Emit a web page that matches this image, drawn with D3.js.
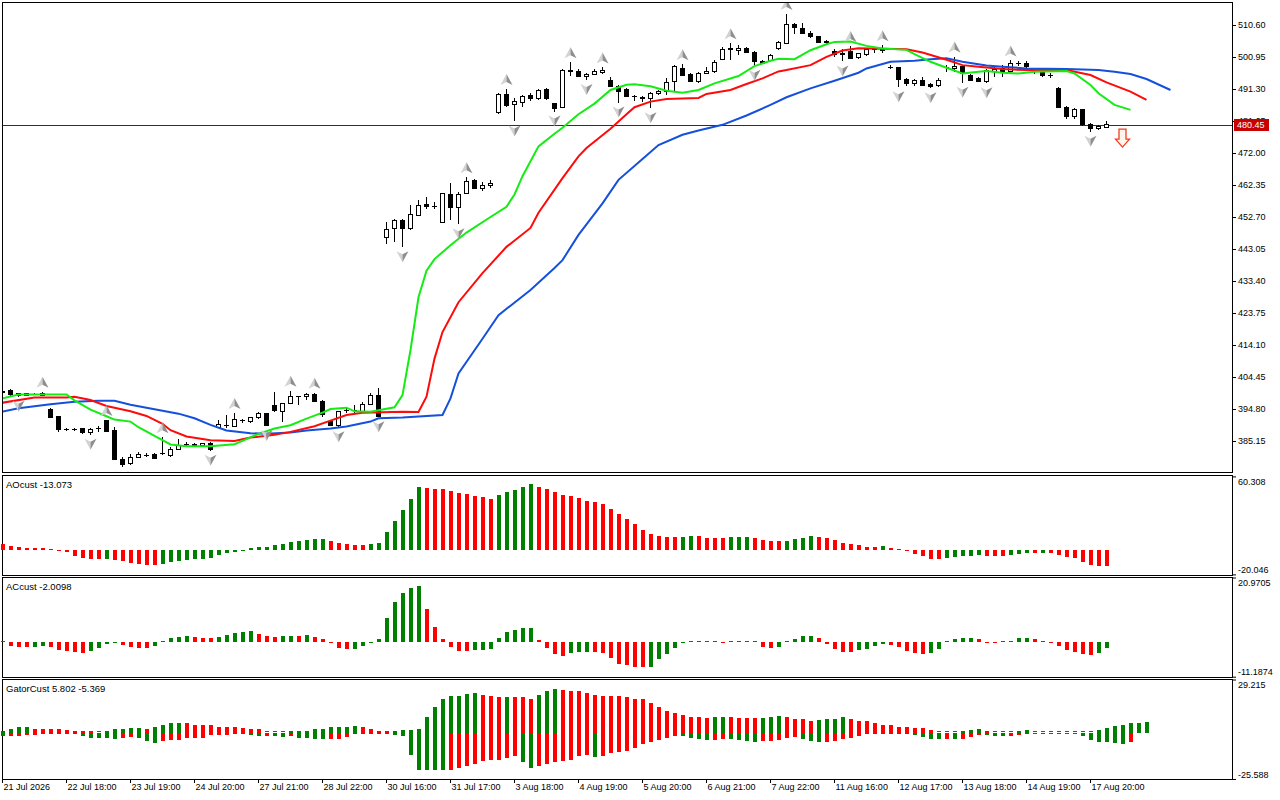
<!DOCTYPE html>
<html>
<head>
<meta charset="utf-8">
<script src="https://cdn.jsdelivr.net/npm/d3@7"></script>
<style>
body { margin: 0; background: #fff; }
svg text { font-family: "Liberation Sans", Arial, sans-serif; }
</style>
</head>
<body>
<div id="chart"></div>
<script>
// ---- data ----
var opens = [400.2,400.5,399.5,398.9,399.2,399.4,394.5,392.5,388.5,388.6,
389.0,387.7,388.8,391.2,388.2,379.7,378.4,380.2,380.9,381.2,
381.3,380.7,382.6,384.1,384.2,383.8,384.3,389.3,389.7,389.5,
391.3,391.0,392.2,393.5,396.0,394.0,396.5,398.7,398.5,399.2,
397.0,391.0,389.7,394.3,394.3,394.0,396.2,399.0,446.6,449.3,
451.5,449.1,453.2,456.6,455.8,451.1,459.6,455.6,459.8,463.6,
461.4,462.1,484.2,489.7,486.5,487.2,489.2,488.5,491.3,486.8,
485.8,497.0,496.7,495.0,495.8,496.2,493.8,492.2,491.0,489.1,
488.8,488.5,489.8,490.5,493.5,497.5,495.8,493.5,496.0,496.5,
500.1,503.6,502.9,503.6,502.3,499.6,500.0,503.4,505.1,510.9,
509.6,508.1,507.1,505.6,502.6,501.6,502.6,500.9,501.6,503.1,
503.1,497.8,497.8,494.2,493.0,494.0,492.7,492.3,497.8,497.6,
498.1,495.5,494.5,493.5,496.7,497.6,496.5,499.1,498.9,496.7,
496.2,495.5,491.5,485.8,483.0,485.0,480.5,479.4,479.8];

var highs = [400.5,400.9,399.7,399.7,399.5,400.0,395.0,392.7,389.0,389.0,
389.2,389.0,389.7,391.5,389.5,380.2,381.2,381.9,381.4,381.4,
386.3,383.2,385.8,384.9,384.4,384.6,384.9,391.5,393.0,393.6,
391.8,392.5,394.0,393.7,399.8,396.7,400.3,398.8,399.5,399.7,
397.5,391.2,394.3,395.0,396.0,397.0,399.5,401.0,451.3,452.1,
452.1,456.3,457.8,458.6,457.3,460.0,462.9,460.3,464.7,464.1,
463.4,463.9,490.0,491.3,488.5,489.5,490.0,491.2,491.5,487.2,
497.2,499.4,497.2,496.2,497.2,497.8,494.8,492.5,491.5,489.5,
489.2,490.5,491.0,494.5,498.5,498.8,496.2,496.5,498.0,499.9,
503.9,505.1,504.6,503.9,502.9,500.1,501.9,505.8,513.9,511.1,
511.1,508.9,507.3,506.1,503.3,503.3,504.3,502.3,503.6,504.0,
504.5,498.6,498.0,494.5,494.3,494.8,493.0,494.5,498.6,501.1,
498.3,495.8,494.8,497.2,498.3,498.6,499.9,499.6,499.6,497.2,
496.5,496.0,491.8,486.2,485.5,485.2,481.0,480.5,481.8];

var lows = [399.7,398.8,398.5,398.7,398.9,398.6,392.0,388.0,388.1,388.2,
387.3,387.0,388.0,387.8,379.4,377.2,377.9,379.9,380.4,379.7,
381.0,380.4,382.4,383.6,383.4,383.6,382.2,389.0,389.0,389.3,
390.5,390.7,391.7,389.7,394.0,391.0,396.2,396.0,397.5,396.8,
392.5,389.8,389.3,393.7,393.5,393.7,396.0,392.3,444.5,445.3,
443.6,448.8,453.0,455.2,455.0,451.0,451.8,450.5,459.5,461.0,
460.6,461.3,483.8,486.0,481.5,485.8,487.8,488.0,488.0,484.5,
485.5,495.2,494.8,494.0,495.5,495.7,491.8,487.2,488.8,487.8,
487.5,485.5,489.5,489.5,490.5,495.2,493.3,493.2,495.7,496.2,
499.9,499.9,501.6,502.1,498.3,498.8,499.8,503.0,504.9,507.9,
507.8,506.6,505.1,504.6,501.1,499.6,500.3,500.3,501.3,502.1,
502.3,497.2,491.8,492.2,492.2,492.2,491.5,492.0,496.5,496.5,
493.2,493.7,493.5,493.0,495.0,495.0,496.2,498.1,497.6,495.8,
495.0,494.5,485.5,482.2,482.2,480.2,478.4,479.0,479.8];

var closes = [399.9,399.2,398.9,399.5,399.2,398.9,392.2,388.5,388.6,388.5,
387.7,388.7,388.8,388.0,379.6,378.2,380.2,381.1,380.9,379.9,
381.4,382.7,383.9,384.0,383.6,384.4,382.6,390.0,389.8,391.5,
391.3,392.3,393.3,389.8,394.3,396.5,398.7,398.7,399.2,397.0,
393.0,389.9,394.0,394.3,394.4,396.2,399.0,392.5,449.0,451.5,
449.2,453.5,456.2,455.8,455.9,459.8,455.6,459.5,463.4,461.4,
462.1,462.7,489.7,486.2,487.5,489.0,488.3,490.8,488.5,485.5,
496.8,496.6,495.0,495.8,496.5,497.0,492.2,490.5,489.0,489.0,
488.5,489.8,490.5,493.3,498.0,495.5,493.5,496.0,496.7,499.4,
503.3,503.1,503.6,502.3,499.6,498.9,501.5,505.2,510.9,509.9,
508.1,507.1,505.3,505.4,501.6,502.1,500.6,501.9,503.3,503.1,
503.0,497.7,494.2,493.0,494.0,492.5,492.2,493.8,497.7,498.1,
496.0,494.0,493.6,496.8,497.3,496.2,499.0,498.9,498.1,496.5,
495.3,495.3,485.8,483.0,485.2,480.5,479.5,480.0,480.45];

// alligator lines, [bar, price]
var jaw = [[0,394.0],[2,395.0],[6,396.2],[9,397.0],[12,397.3],[14,397.3],[16,396.1],[19,394.7],[22,393.4],[24,392.0],
[26,390.0],[28,388.3],[31,387.5],[33,387.3],[36,387.7],[38,388.3],[41,388.9],[43,389.5],[46,391.0],[47,392.0],
[50,392.2],[55,393.0],[56,398.0],[57,405.5],[60,416.0],[62,423.1],[66,430.7],[69,437.3],[70,439.7],[72,447.3],
[75,456.8],[77,463.9],[80,470.2],[82,474.4],[85,477.5],[87,478.8],[90,480.5],[93,483.3],[96,486.5],[98,488.8],
[101,491.5],[104,493.8],[107,496.2],[108,497.5],[111,499.5],[114,499.8],[116,500.3],[118,500.6],[120,499.5],[123,498.4],
[125,498.0],[128,497.5],[133,497.3],[137,497.0],[139,496.5],[141,495.8],[143,494.3],[146,491.0]];

var teeth = [[0,396.7],[4,398.3],[8,398.3],[9,398.5],[11,397.5],[13,395.7],[16,394.1],[18,392.7],[20,390.3],[21,388.4],
[23,386.5],[26,385.4],[29,385.15],[31,386.2],[34,387.0],[36,387.9],[39,389.6],[41,391.3],[43,393.0],[45,393.7],
[50,394.0],[52,393.9],[53,398.5],[54,410.0],[55,418.0],[57,427.0],[60,435.8],[63,443.7],[66,449.4],[67,454.0],
[70,464.4],[72,471.0],[73,473.5],[76,479.3],[78,483.7],[79,485.8],[81,487.5],[83,488.3],[87,488.6],[88,489.8],
[91,491.0],[93,492.8],[95,494.5],[97,496.6],[98,497.0],[101,498.5],[103,501.0],[105,502.9],[107,503.6],[113,503.3],
[115,502.3],[118,500.1],[120,498.5],[122,498.0],[125,497.3],[128,497.0],[133,497.0],[136,495.5],[138,493.3],[141,490.5],
[143,488.0]];

var lips = [[0,398.0],[2,399.2],[8,399.2],[9,397.4],[11,394.6],[13,392.6],[14,391.6],[16,391.0],[17,389.3],[19,386.7],
[21,384.1],[23,383.6],[26,383.6],[29,384.2],[30,385.2],[32,387.3],[34,388.9],[36,389.9],[38,391.9],[40,393.7],
[41,394.8],[43,395.2],[44,394.1],[46,394.0],[49,395.3],[50,399.0],[51,412.6],[52,428.5],[53,436.5],[54,440.0],
[56,444.2],[58,448.0],[61,452.7],[63,455.8],[64,459.5],[65,465.0],[67,474.0],[69,477.8],[70,479.6],[72,483.7],
[74,486.9],[76,491.0],[78,492.6],[79,492.7],[81,492.1],[83,490.8],[85,490.2],[87,491.0],[89,493.0],[92,495.2],
[94,498.2],[96,499.8],[97,500.4],[99,500.3],[101,503.0],[103,504.8],[104,505.5],[106,505.6],[108,504.3],[110,503.5],
[113,503.1],[114,501.8],[116,499.5],[118,497.7],[120,496.0],[122,496.5],[123,496.7],[125,496.2],[127,496.0],[129,496.5],
[133,496.7],[134,496.0],[136,492.5],[137,490.0],[139,486.5],[141,485.0]];

var fractalUp = [5,13,20,29,36,39,58,63,71,75,85,91,98,106,110,119,126];
var fractalDown = [2,11,15,26,33,42,47,50,57,64,69,73,77,81,94,105,112,116,120,123,136];

var signalBar = 140, signalPrice = 479.2;
var lastPrice = 480.45;

var aoValues = [4.9,3.6,2.5,1.9,1.6,1.4,0.1,-0.5,-1.6,-4.6,
-6.6,-7.1,-7.4,-7.1,-8.2,-8.7,-10.4,-11.8,-12.3,-12.4,
-11.2,-10.1,-8.7,-7.9,-7.4,-7.1,-6.3,-4.4,-2.7,-1.6,
-0.5,1.6,2.2,2.5,4.4,5.2,6.6,7.4,7.9,8.7,
9.0,7.4,6.0,5.2,4.4,4.1,5.2,5.7,14.8,23.8,
32.8,41.8,51.9,50.8,50.0,49.7,48.4,46.7,45.6,44.5,
43.7,41.8,45.3,47.5,49.5,51.9,54.1,51.9,50.0,47.5,
45.3,44.3,42.9,40.4,39.1,38.0,33.6,29.5,25.4,21.3,
16.4,13.1,11.5,10.6,10.4,10.6,11.7,11.5,10.1,9.8,
9.7,10.3,10.7,10.8,9.5,7.9,7.4,7.3,7.6,9.0,
9.8,11.7,10.9,9.8,8.2,6.0,4.9,4.1,2.7,2.6,
3.3,1.4,0.1,-0.8,-3.6,-4.9,-7.1,-7.4,-6.3,-5.5,
-4.9,-4.6,-4.1,-4.9,-5.0,-5.1,-4.2,-3.6,-2.7,-2.9,
-2.6,-2.7,-4.1,-5.5,-6.8,-9.6,-12.3,-12.8,-13.073];

var acValues = [0.2,-1.2,-1.5,-1.6,-1.5,-1.3,-1.5,-2.6,-2.9,-3.1,
-3.5,-2.7,-1.8,-0.5,-0.4,-1.0,-1.5,-1.8,-1.9,-1.2,
0.1,1.3,1.7,1.9,1.6,1.4,1.3,1.7,2.4,2.9,
3.2,3.6,2.7,1.9,1.8,1.9,2.0,1.9,2.2,1.6,
1.0,-0.4,-2.0,-2.3,-2.2,-1.2,-0.2,0.9,7.9,13.0,
15.9,17.6,18.2,10.8,5.0,1.0,-1.5,-2.8,-2.9,-2.6,
-2.5,-2.3,1.3,3.2,3.9,4.5,4.6,0.6,-1.8,-3.9,
-4.4,-3.5,-3.2,-3.1,-3.2,-3.5,-5.1,-7.0,-7.5,-8.1,
-8.2,-8.0,-5.6,-3.7,-1.8,-0.2,0.1,0.05,0.1,0.0,
-0.1,0.0,0.1,0.2,0.1,-1.7,-1.8,-1.5,0.1,0.9,
1.9,2.0,1.4,-0.5,-2.2,-3.1,-3.2,-2.6,-2.3,-1.3,
-0.6,-0.9,-1.7,-2.8,-3.5,-3.8,-3.5,-2.3,0.2,1.0,
1.3,1.35,1.0,-0.1,-0.15,0.0,0.5,1.3,1.35,1.0,
0.1,-0.1,-1.2,-2.5,-3.1,-3.7,-4.2,-3.5,-2.0098];

var gatorUp = [1.1,2.2,2.8,2.9,2.2,2.15,2.1,1.7,1.6,1.1,
1.0,0.6,0.1,1.1,1.7,2.2,2.3,2.4,2.2,2.8,
3.9,5.0,5.1,5.0,4.4,4.3,3.9,3.3,3.2,2.8,
2.7,2.2,1.7,0.3,0.1,0.05,0.6,0.7,1.1,1.7,
1.8,2.8,2.9,3.3,3.4,2.8,1.7,1.1,1.0,1.1,
1.6,1.65,1.7,8.3,13.8,18.7,20.0,20.4,21.5,21.55,
20.9,20.4,19.8,19.85,19.8,19.7,18.7,20.9,23.1,24.2,
23.7,23.1,23.05,22.0,20.9,20.4,20.35,20.3,19.8,18.7,
18.2,16.5,13.8,12.1,11.0,9.9,8.8,8.3,8.25,8.3,
8.35,8.3,8.2,8.1,8.0,8.2,8.8,8.85,8.8,7.7,
7.2,6.6,6.65,7.2,7.7,8.3,7.7,6.6,6.1,5.0,
4.4,3.9,3.3,2.8,2.75,2.7,1.65,0.55,0.3,0.55,
1.1,1.65,1.7,1.1,0.55,0.05,0.55,1.1,1.15,0.55,
0.5,0.1,0.05,0.1,0.15,0.05,0.55,1.65,2.75,3.85,
4.4,5.0,5.5,5.802];

var gatorDown = [2.0,2.0,1.95,1.6,1.5,0.9,0.85,0.8,0.4,0.35,
2.0,3.1,3.15,3.2,3.3,3.1,2.6,3.1,4.8,5.9,
4.8,4.2,4.1,3.1,3.0,2.9,1.5,1.4,1.3,0.9,
0.8,1.5,2.0,1.9,2.0,2.6,2.0,3.1,3.2,3.3,
3.7,3.6,3.5,2.6,0.5,0.4,0.9,1.0,1.05,1.6,
1.65,12.1,20.4,20.45,20.5,20.9,20.8,19.8,18.2,17.1,
15.4,15.35,14.9,13.8,12.7,16.5,19.3,18.2,17.1,16.5,
15.4,14.9,12.7,12.1,13.2,12.7,11.0,10.5,9.9,8.3,
6.1,5.0,3.9,2.8,1.9,2.0,2.8,3.3,3.9,3.85,
3.3,3.35,3.9,4.4,5.0,4.9,4.4,3.9,2.75,2.7,
3.3,4.4,5.0,4.95,4.4,3.3,2.75,1.65,0.55,0.5,
0.45,0.4,0.5,0.55,1.1,2.2,3.3,3.35,3.3,3.4,
3.3,2.2,1.1,1.15,1.65,1.7,1.65,1.1,0.55,0.5,
0.55,0.3,0.3,0.25,0.2,2.0,3.9,5.0,5.05,5.5,
6.1,5.369];

var priceTicks = [510.60,500.95,491.30,481.65,472.00,462.35,452.70,443.05,433.40,423.75,414.10,404.45,394.80,385.15];
var aoRange = [-20.046, 60.308];
var acRange = [-11.1874, 20.9705];
var gatorRange = [-25.588, 29.215];

var timeTickBars = [0,8,16,24,32,40,48,56,64,72,80,88,96,104,112,120,128,136];
var timeLabels = ["21 Jul 2026","22 Jul 18:00","23 Jul 19:00","24 Jul 20:00","27 Jul 21:00","28 Jul 22:00",
"30 Jul 16:00","31 Jul 17:00","3 Aug 18:00","4 Aug 19:00","5 Aug 20:00","6 Aug 21:00","7 Aug 22:00",
"11 Aug 16:00","12 Aug 17:00","13 Aug 18:00","14 Aug 19:00","17 Aug 20:00"];

// ---- layout ----
var width = 1280, height = 800,
    left = 2, right = 1232;
var pMain = [2, 472], pAO = [475, 575], pAC = [577, 677], pGator = [679, 779];

var green = "#008000", red = "#ff0000";

var svg = d3.select("#chart")
  .append("svg")
    .attr("width", width)
    .attr("height", height);

var x = d3.scaleLinear().domain([0, 1]).range([2, 10]);   // 8px per bar

var yMain = d3.scaleLinear().domain([385.15, 510.60]).range([441, 25]);
var yAO = d3.scaleLinear().domain(aoRange).range([pAO[1] - 0.6, pAO[0] + 1.4]);
var yAC = d3.scaleLinear().domain(acRange).range([pAC[1] - 0.3, pAC[0] + 0.5]);
var yG = d3.scaleLinear().domain(gatorRange).range([pGator[1], pGator[0] + 0.5]);

var defs = svg.append("defs");
defs.append("clipPath").attr("id", "clipMain")
  .append("rect").attr("x", left + 1).attr("y", pMain[0] + 1)
  .attr("width", right - left - 1).attr("height", pMain[1] - pMain[0] - 1);

// frames
[pMain, pAO, pAC, pGator].forEach(function(p) {
  svg.append("rect")
    .attr("x", left + 0.5).attr("y", p[0] + 0.5)
    .attr("width", right - left).attr("height", p[1] - p[0])
    .attr("fill", "none").attr("stroke", "#000");
});

// ---- main panel ----
var main = svg.append("g").attr("clip-path", "url(#clipMain)");

// current price line
main.append("line")
  .attr("x1", left).attr("x2", right)
  .attr("y1", Math.round(yMain(lastPrice)) + 0.5).attr("y2", Math.round(yMain(lastPrice)) + 0.5)
  .attr("stroke", "#a00000");

var bars = d3.range(opens.length);
var cg = main.append("g").attr("shape-rendering", "crispEdges");

cg.selectAll("line.wick")
  .data(bars)
  .enter().append("line")
    .attr("class", "wick")
    .attr("x1", function(i) { return x(i) + 0.5; })
    .attr("x2", function(i) { return x(i) + 0.5; })
    .attr("y1", function(i) { return yMain(highs[i]); })
    .attr("y2", function(i) { return yMain(lows[i]); })
    .attr("stroke", "#000");

cg.selectAll("rect.body")
  .data(bars)
  .enter().append("rect")
    .attr("class", "body")
    .attr("x", function(i) { return x(i) - 1.5; })
    .attr("width", 4)
    .attr("y", function(i) { return yMain(Math.max(opens[i], closes[i])); })
    .attr("height", function(i) { return Math.max(0.01, Math.abs(yMain(opens[i]) - yMain(closes[i]))); })
    .attr("fill", function(i) { return closes[i] >= opens[i] ? "#fff" : "#000"; })
    .attr("stroke", "#000");

// alligator
var line = d3.line()
  .x(function(d) { return x(d[0]) + 0.5; })
  .y(function(d) { return yMain(d[1]); });

[[jaw, "#1450dc"], [teeth, "#ff0a0a"], [lips, "#14ec14"]].forEach(function(s) {
  main.append("path")
    .datum(s[0])
    .attr("d", line)
    .attr("fill", "none")
    .attr("stroke", s[1])
    .attr("stroke-width", 2);
});

// fractals
function fractal(g, up) {
  var s = up ? 1 : -1;
  g.append("path").attr("d", "M0," + (-6 * s) + "L0," + (2 * s) + "L-6," + (5 * s) + "Z").attr("fill", "#d2d2d2");
  g.append("path").attr("d", "M0," + (-6 * s) + "L6," + (5 * s) + "L0," + (2 * s) + "Z").attr("fill", "#8e8e8e");
}
main.selectAll("g.fup")
  .data(fractalUp)
  .enter().append("g")
    .attr("transform", function(i) { return "translate(" + (x(i) + 0.5) + "," + (yMain(highs[i]) - 9) + ")"; })
    .each(function() { fractal(d3.select(this), true); });
main.selectAll("g.fdn")
  .data(fractalDown)
  .enter().append("g")
    .attr("transform", function(i) { return "translate(" + (x(i) + 0.5) + "," + (yMain(lows[i]) + 9) + ")"; })
    .each(function() { fractal(d3.select(this), false); });

// sell signal arrow
main.append("path")
  .attr("transform", "translate(" + (x(signalBar) + 0.5) + "," + yMain(signalPrice) + ")")
  .attr("d", "M-3.5,0L3.5,0L3.5,10L7,10L0,18L-7,10L-3.5,10Z")
  .attr("fill", "#fff4ee")
  .attr("stroke", "#ec4020")
  .attr("stroke-width", 1.3);

// price axis
var yAxis = d3.axisRight(yMain)
  .tickValues(priceTicks)
  .tickSize(4)
  .tickPadding(2)
  .tickFormat(function(d) { return d.toFixed(2); });
var gy = svg.append("g")
  .attr("transform", "translate(" + right + ",0)")
  .call(yAxis);
gy.select(".domain").remove();
gy.attr("font-family", null).attr("font-size", 9);

// last price box
var lp = svg.append("g").attr("transform", "translate(1234," + yMain(lastPrice) + ")");
lp.append("rect").attr("x", 0).attr("y", -6).attr("width", 35).attr("height", 12).attr("fill", "#c80000");
lp.append("text").attr("x", 3).attr("dy", "0.34em").attr("font-size", 9).attr("fill", "#fff").text(lastPrice.toFixed(2));

// ---- sub panels ----
function histogram(vals, yS, firstColor, sign) {
  var g = svg.append("g").attr("shape-rendering", "crispEdges");
  g.selectAll("rect")
    .data(vals)
    .enter().append("rect")
      .attr("x", function(d, i) { return x(i) - 1.5; })
      .attr("width", 4)
      .attr("y", function(d) { var v = d * sign; return v >= 0 ? yS(v) - (Math.abs(yS(v) - yS(0)) < 1 ? 1 : 0) : yS(0); })
      .attr("height", function(d) { return Math.max(1, Math.abs(yS(d * sign) - yS(0))); })
      .attr("fill", function(d, i) {
        if (i === 0) return firstColor;
        return d > vals[i - 1] ? green : red;
      });
}
histogram(aoValues, yAO, red, 1);
histogram(acValues, yAC, red, 1);
histogram(gatorUp, yG, green, 1);
histogram(gatorDown, yG, green, -1);

function panelAxis(yS, range, decimals) {
  var ax = d3.axisRight(yS)
    .tickValues([range[0], range[1]])
    .tickSize(4)
    .tickPadding(2)
    .tickFormat(function(d) { return d.toFixed(decimals); });
  var g = svg.append("g").attr("transform", "translate(" + right + ",0)").call(ax);
  g.select(".domain").remove();
  g.attr("font-family", null).attr("font-size", 9);
  g.selectAll("text").attr("dy", function(d) { return d === range[1] ? "0.85em" : "-0.2em"; });
}
panelAxis(yAO, aoRange, 3);
panelAxis(yAC, acRange, 4);
panelAxis(yG, gatorRange, 3);

var labels = svg.append("g").attr("font-size", 9.5);
labels.append("text").attr("x", 6).attr("y", pAO[0] + 13)
  .text("AOcust " + aoValues[aoValues.length - 1].toFixed(3));
labels.append("text").attr("x", 6).attr("y", pAC[0] + 13)
  .text("ACcust " + acValues[acValues.length - 1].toFixed(4));
labels.append("text").attr("x", 6).attr("y", pGator[0] + 13)
  .text("GatorCust " + gatorUp[gatorUp.length - 1].toFixed(3) + " " + (-gatorDown[gatorDown.length - 1]).toFixed(3));

// time axis
var xAxis = d3.axisBottom(x)
  .tickValues(timeTickBars)
  .tickSize(4)
  .tickPadding(1)
  .tickFormat(function(d, i) { return timeLabels[i]; });
var gx = svg.append("g")
  .attr("transform", "translate(0," + pGator[1] + ")")
  .call(xAxis);
gx.select(".domain").remove();
gx.attr("font-family", null).attr("font-size", 9);
gx.selectAll("text").attr("text-anchor", "start").attr("x", 1);
</script>
</body>
</html>
